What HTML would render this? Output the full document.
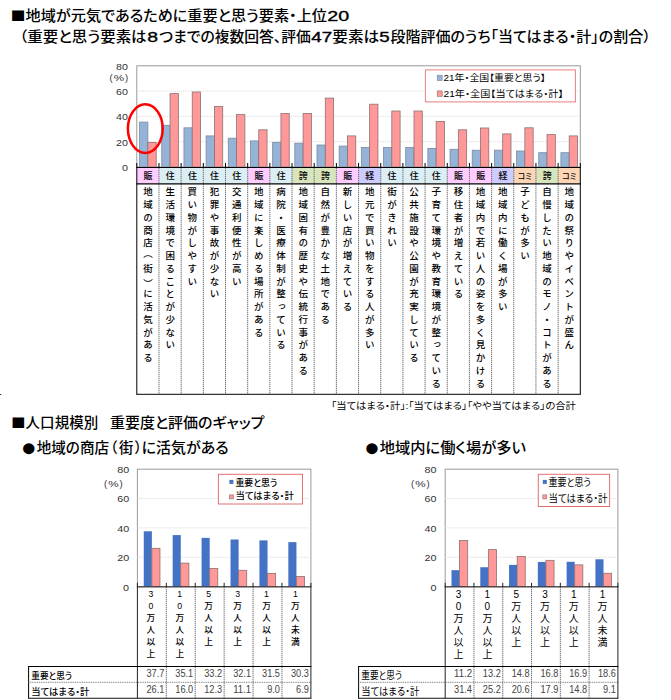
<!DOCTYPE html>
<html lang="ja"><head><meta charset="utf-8"><title>地域が元気であるために重要と思う要素</title>
<style>
html,body{margin:0;padding:0;background:#fff;}
#wrap{position:relative;width:671px;height:700px;overflow:hidden;background:#fff;font-family:"Liberation Sans", "Noto Sans CJK JP", sans-serif;}
svg{position:absolute;left:0;top:0;}
svg text{font-feature-settings:"palt";}
.vl{position:absolute;writing-mode:vertical-rl;text-orientation:upright;font-size:9.5px;font-weight:500;letter-spacing:3.25px;color:#000;white-space:nowrap;font-family:"Liberation Sans", "Noto Sans CJK JP", sans-serif;}
.po{position:relative;top:-2.5px}.pc{position:relative;top:2.5px}
.vs{position:absolute;writing-mode:vertical-rl;text-orientation:upright;color:#000;white-space:nowrap;font-family:"Liberation Sans", "Noto Sans CJK JP", sans-serif;}
</style></head><body>
<div id="wrap">
<svg width="671" height="700" viewBox="0 0 671 700">
<rect x="136.80" y="65.80" width="443.50" height="101.20" fill="#fff" stroke="#9a9a9a" stroke-width="1" />
<line x1="136.80" y1="141.70" x2="580.30" y2="141.70" stroke="#dcdcdc" stroke-width="0.9" stroke-dasharray="1.2,0.8"/>
<line x1="136.80" y1="116.40" x2="580.30" y2="116.40" stroke="#dcdcdc" stroke-width="0.9" stroke-dasharray="1.2,0.8"/>
<line x1="136.80" y1="91.10" x2="580.30" y2="91.10" stroke="#dcdcdc" stroke-width="0.9" stroke-dasharray="1.2,0.8"/>
<rect x="139.59" y="122.10" width="8.30" height="44.90" fill="#95b3d7" stroke="#7a8aa0" stroke-width="0.8" />
<rect x="147.89" y="142.50" width="8.30" height="24.50" fill="#ff9999" stroke="#8c7070" stroke-width="0.8" />
<rect x="161.76" y="125.30" width="8.30" height="41.70" fill="#95b3d7" stroke="#7a8aa0" stroke-width="0.8" />
<rect x="170.06" y="93.60" width="8.30" height="73.40" fill="#ff9999" stroke="#8c7070" stroke-width="0.8" />
<rect x="183.94" y="127.80" width="8.30" height="39.20" fill="#95b3d7" stroke="#7a8aa0" stroke-width="0.8" />
<rect x="192.24" y="92.00" width="8.30" height="75.00" fill="#ff9999" stroke="#8c7070" stroke-width="0.8" />
<rect x="206.11" y="135.90" width="8.30" height="31.10" fill="#95b3d7" stroke="#7a8aa0" stroke-width="0.8" />
<rect x="214.41" y="106.50" width="8.30" height="60.50" fill="#ff9999" stroke="#8c7070" stroke-width="0.8" />
<rect x="228.29" y="138.20" width="8.30" height="28.80" fill="#95b3d7" stroke="#7a8aa0" stroke-width="0.8" />
<rect x="236.59" y="114.60" width="8.30" height="52.40" fill="#ff9999" stroke="#8c7070" stroke-width="0.8" />
<rect x="250.46" y="140.90" width="8.30" height="26.10" fill="#95b3d7" stroke="#7a8aa0" stroke-width="0.8" />
<rect x="258.76" y="129.80" width="8.30" height="37.20" fill="#ff9999" stroke="#8c7070" stroke-width="0.8" />
<rect x="272.64" y="142.30" width="8.30" height="24.70" fill="#95b3d7" stroke="#7a8aa0" stroke-width="0.8" />
<rect x="280.94" y="113.50" width="8.30" height="53.50" fill="#ff9999" stroke="#8c7070" stroke-width="0.8" />
<rect x="294.81" y="143.20" width="8.30" height="23.80" fill="#95b3d7" stroke="#7a8aa0" stroke-width="0.8" />
<rect x="303.11" y="113.50" width="8.30" height="53.50" fill="#ff9999" stroke="#8c7070" stroke-width="0.8" />
<rect x="316.99" y="145.00" width="8.30" height="22.00" fill="#95b3d7" stroke="#7a8aa0" stroke-width="0.8" />
<rect x="325.29" y="98.10" width="8.30" height="68.90" fill="#ff9999" stroke="#8c7070" stroke-width="0.8" />
<rect x="339.16" y="146.10" width="8.30" height="20.90" fill="#95b3d7" stroke="#7a8aa0" stroke-width="0.8" />
<rect x="347.46" y="135.90" width="8.30" height="31.10" fill="#ff9999" stroke="#8c7070" stroke-width="0.8" />
<rect x="361.34" y="147.50" width="8.30" height="19.50" fill="#95b3d7" stroke="#7a8aa0" stroke-width="0.8" />
<rect x="369.64" y="104.20" width="8.30" height="62.80" fill="#ff9999" stroke="#8c7070" stroke-width="0.8" />
<rect x="383.51" y="147.50" width="8.30" height="19.50" fill="#95b3d7" stroke="#7a8aa0" stroke-width="0.8" />
<rect x="391.81" y="111.00" width="8.30" height="56.00" fill="#ff9999" stroke="#8c7070" stroke-width="0.8" />
<rect x="405.69" y="147.50" width="8.30" height="19.50" fill="#95b3d7" stroke="#7a8aa0" stroke-width="0.8" />
<rect x="413.99" y="111.00" width="8.30" height="56.00" fill="#ff9999" stroke="#8c7070" stroke-width="0.8" />
<rect x="427.86" y="148.40" width="8.30" height="18.60" fill="#95b3d7" stroke="#7a8aa0" stroke-width="0.8" />
<rect x="436.16" y="121.40" width="8.30" height="45.60" fill="#ff9999" stroke="#8c7070" stroke-width="0.8" />
<rect x="450.04" y="149.30" width="8.30" height="17.70" fill="#95b3d7" stroke="#7a8aa0" stroke-width="0.8" />
<rect x="458.34" y="129.80" width="8.30" height="37.20" fill="#ff9999" stroke="#8c7070" stroke-width="0.8" />
<rect x="472.21" y="150.20" width="8.30" height="16.80" fill="#95b3d7" stroke="#7a8aa0" stroke-width="0.8" />
<rect x="480.51" y="128.00" width="8.30" height="39.00" fill="#ff9999" stroke="#8c7070" stroke-width="0.8" />
<rect x="494.39" y="150.20" width="8.30" height="16.80" fill="#95b3d7" stroke="#7a8aa0" stroke-width="0.8" />
<rect x="502.69" y="133.90" width="8.30" height="33.10" fill="#ff9999" stroke="#8c7070" stroke-width="0.8" />
<rect x="516.56" y="151.00" width="8.30" height="16.00" fill="#95b3d7" stroke="#7a8aa0" stroke-width="0.8" />
<rect x="524.86" y="127.80" width="8.30" height="39.20" fill="#ff9999" stroke="#8c7070" stroke-width="0.8" />
<rect x="538.74" y="152.70" width="8.30" height="14.30" fill="#95b3d7" stroke="#7a8aa0" stroke-width="0.8" />
<rect x="547.04" y="134.60" width="8.30" height="32.40" fill="#ff9999" stroke="#8c7070" stroke-width="0.8" />
<rect x="560.91" y="152.70" width="8.30" height="14.30" fill="#95b3d7" stroke="#7a8aa0" stroke-width="0.8" />
<rect x="569.21" y="135.90" width="8.30" height="31.10" fill="#ff9999" stroke="#8c7070" stroke-width="0.8" />
<rect x="425.40" y="69.90" width="150.00" height="32.00" fill="#fff" stroke="#e57f7f" stroke-width="1" />
<rect x="437.20" y="75.20" width="5.00" height="5.40" fill="#95b3d7" stroke="#7a8aa0" stroke-width="0.6" />
<rect x="437.20" y="90.90" width="5.00" height="5.40" fill="#ff9999" stroke="#8c7070" stroke-width="0.6" />
<text x="443.60" y="81.30" font-size="9" text-anchor="start" font-weight="400" fill="#000" font-family='"Liberation Sans", "Noto Sans CJK JP", sans-serif' id="lg1" textLength="102" lengthAdjust="spacingAndGlyphs">21年・全国【重要と思う】</text>
<text x="443.60" y="97.20" font-size="9" text-anchor="start" font-weight="400" fill="#000" font-family='"Liberation Sans", "Noto Sans CJK JP", sans-serif' id="lg2" textLength="120" lengthAdjust="spacingAndGlyphs">21年・全国【当てはまる・計】</text>
<text x="127.90" y="69.80" font-size="9.9" text-anchor="end" font-weight="400" fill="#333" font-family='"Liberation Sans", "Noto Sans CJK JP", sans-serif' textLength="11.9" lengthAdjust="spacingAndGlyphs">80</text>
<text x="127.90" y="95.10" font-size="9.9" text-anchor="end" font-weight="400" fill="#333" font-family='"Liberation Sans", "Noto Sans CJK JP", sans-serif' textLength="11.9" lengthAdjust="spacingAndGlyphs">60</text>
<text x="127.90" y="120.40" font-size="9.9" text-anchor="end" font-weight="400" fill="#333" font-family='"Liberation Sans", "Noto Sans CJK JP", sans-serif' textLength="11.9" lengthAdjust="spacingAndGlyphs">40</text>
<text x="127.90" y="145.70" font-size="9.9" text-anchor="end" font-weight="400" fill="#333" font-family='"Liberation Sans", "Noto Sans CJK JP", sans-serif' textLength="11.9" lengthAdjust="spacingAndGlyphs">20</text>
<text x="127.90" y="171.00" font-size="9.9" text-anchor="end" font-weight="400" fill="#333" font-family='"Liberation Sans", "Noto Sans CJK JP", sans-serif' textLength="6.0" lengthAdjust="spacingAndGlyphs">0</text>
<text y="81.40" font-size="9.5" fill="#333" font-family='"Liberation Sans", "Noto Sans CJK JP", sans-serif'><tspan x="109.50">(</tspan><tspan x="113.70" textLength="10.4" lengthAdjust="spacingAndGlyphs">%</tspan><tspan x="124.90">)</tspan></text>
<ellipse cx="145.3" cy="128.6" rx="17.4" ry="24.3" fill="none" stroke="#ff0000" stroke-width="2.5"/>
<rect x="136.80" y="168.00" width="22.17" height="15.30" fill="#ffccff" />
<rect x="158.98" y="168.00" width="22.17" height="15.30" fill="#daeef3" />
<rect x="181.15" y="168.00" width="22.17" height="15.30" fill="#daeef3" />
<rect x="203.32" y="168.00" width="22.17" height="15.30" fill="#daeef3" />
<rect x="225.50" y="168.00" width="22.17" height="15.30" fill="#daeef3" />
<rect x="247.68" y="168.00" width="22.17" height="15.30" fill="#ffccff" />
<rect x="269.85" y="168.00" width="22.17" height="15.30" fill="#daeef3" />
<rect x="292.02" y="168.00" width="22.17" height="15.30" fill="#d8e4bc" />
<rect x="314.20" y="168.00" width="22.17" height="15.30" fill="#d8e4bc" />
<rect x="336.38" y="168.00" width="22.17" height="15.30" fill="#ffccff" />
<rect x="358.55" y="168.00" width="22.17" height="15.30" fill="#ccccff" />
<rect x="380.72" y="168.00" width="22.17" height="15.30" fill="#daeef3" />
<rect x="402.90" y="168.00" width="22.17" height="15.30" fill="#daeef3" />
<rect x="425.07" y="168.00" width="22.17" height="15.30" fill="#daeef3" />
<rect x="447.25" y="168.00" width="22.17" height="15.30" fill="#ffccff" />
<rect x="469.42" y="168.00" width="22.17" height="15.30" fill="#ffccff" />
<rect x="491.60" y="168.00" width="22.17" height="15.30" fill="#ccccff" />
<rect x="513.77" y="168.00" width="22.17" height="15.30" fill="#fcd5b4" />
<rect x="535.95" y="168.00" width="22.17" height="15.30" fill="#d8e4bc" />
<rect x="558.12" y="168.00" width="22.17" height="15.30" fill="#fcd5b4" />
<line x1="158.98" y1="168.00" x2="158.98" y2="394.30" stroke="#555" stroke-width="0.8" stroke-dasharray="1.4,0.6"/>
<line x1="181.15" y1="168.00" x2="181.15" y2="394.30" stroke="#555" stroke-width="0.8" stroke-dasharray="1.4,0.6"/>
<line x1="203.32" y1="168.00" x2="203.32" y2="394.30" stroke="#555" stroke-width="0.8" stroke-dasharray="1.4,0.6"/>
<line x1="225.50" y1="168.00" x2="225.50" y2="394.30" stroke="#555" stroke-width="0.8" stroke-dasharray="1.4,0.6"/>
<line x1="247.68" y1="168.00" x2="247.68" y2="394.30" stroke="#555" stroke-width="0.8" stroke-dasharray="1.4,0.6"/>
<line x1="269.85" y1="168.00" x2="269.85" y2="394.30" stroke="#555" stroke-width="0.8" stroke-dasharray="1.4,0.6"/>
<line x1="292.02" y1="168.00" x2="292.02" y2="394.30" stroke="#555" stroke-width="0.8" stroke-dasharray="1.4,0.6"/>
<line x1="314.20" y1="168.00" x2="314.20" y2="394.30" stroke="#555" stroke-width="0.8" stroke-dasharray="1.4,0.6"/>
<line x1="336.38" y1="168.00" x2="336.38" y2="394.30" stroke="#555" stroke-width="0.8" stroke-dasharray="1.4,0.6"/>
<line x1="358.55" y1="168.00" x2="358.55" y2="394.30" stroke="#555" stroke-width="0.8" stroke-dasharray="1.4,0.6"/>
<line x1="380.72" y1="168.00" x2="380.72" y2="394.30" stroke="#555" stroke-width="0.8" stroke-dasharray="1.4,0.6"/>
<line x1="402.90" y1="168.00" x2="402.90" y2="394.30" stroke="#555" stroke-width="0.8" stroke-dasharray="1.4,0.6"/>
<line x1="425.07" y1="168.00" x2="425.07" y2="394.30" stroke="#555" stroke-width="0.8" stroke-dasharray="1.4,0.6"/>
<line x1="447.25" y1="168.00" x2="447.25" y2="394.30" stroke="#555" stroke-width="0.8" stroke-dasharray="1.4,0.6"/>
<line x1="469.42" y1="168.00" x2="469.42" y2="394.30" stroke="#555" stroke-width="0.8" stroke-dasharray="1.4,0.6"/>
<line x1="491.60" y1="168.00" x2="491.60" y2="394.30" stroke="#555" stroke-width="0.8" stroke-dasharray="1.4,0.6"/>
<line x1="513.77" y1="168.00" x2="513.77" y2="394.30" stroke="#555" stroke-width="0.8" stroke-dasharray="1.4,0.6"/>
<line x1="535.95" y1="168.00" x2="535.95" y2="394.30" stroke="#555" stroke-width="0.8" stroke-dasharray="1.4,0.6"/>
<line x1="558.12" y1="168.00" x2="558.12" y2="394.30" stroke="#555" stroke-width="0.8" stroke-dasharray="1.4,0.6"/>
<line x1="136.80" y1="167.50" x2="136.80" y2="394.30" stroke="#000" stroke-width="1" />
<line x1="580.30" y1="167.50" x2="580.30" y2="394.30" stroke="#000" stroke-width="1" />
<line x1="136.30" y1="394.30" x2="580.80" y2="394.30" stroke="#000" stroke-width="1" />
<line x1="136.30" y1="183.80" x2="580.80" y2="183.80" stroke="#000" stroke-width="1.3" />
<line x1="136.30" y1="167.50" x2="580.80" y2="167.50" stroke="#000" stroke-width="1.1" />
<line x1="136.80" y1="163.00" x2="136.80" y2="167.50" stroke="#000" stroke-width="1" />
<line x1="158.98" y1="163.00" x2="158.98" y2="167.50" stroke="#000" stroke-width="1" />
<line x1="181.15" y1="163.00" x2="181.15" y2="167.50" stroke="#000" stroke-width="1" />
<line x1="203.32" y1="163.00" x2="203.32" y2="167.50" stroke="#000" stroke-width="1" />
<line x1="225.50" y1="163.00" x2="225.50" y2="167.50" stroke="#000" stroke-width="1" />
<line x1="247.68" y1="163.00" x2="247.68" y2="167.50" stroke="#000" stroke-width="1" />
<line x1="269.85" y1="163.00" x2="269.85" y2="167.50" stroke="#000" stroke-width="1" />
<line x1="292.02" y1="163.00" x2="292.02" y2="167.50" stroke="#000" stroke-width="1" />
<line x1="314.20" y1="163.00" x2="314.20" y2="167.50" stroke="#000" stroke-width="1" />
<line x1="336.38" y1="163.00" x2="336.38" y2="167.50" stroke="#000" stroke-width="1" />
<line x1="358.55" y1="163.00" x2="358.55" y2="167.50" stroke="#000" stroke-width="1" />
<line x1="380.72" y1="163.00" x2="380.72" y2="167.50" stroke="#000" stroke-width="1" />
<line x1="402.90" y1="163.00" x2="402.90" y2="167.50" stroke="#000" stroke-width="1" />
<line x1="425.07" y1="163.00" x2="425.07" y2="167.50" stroke="#000" stroke-width="1" />
<line x1="447.25" y1="163.00" x2="447.25" y2="167.50" stroke="#000" stroke-width="1" />
<line x1="469.42" y1="163.00" x2="469.42" y2="167.50" stroke="#000" stroke-width="1" />
<line x1="491.60" y1="163.00" x2="491.60" y2="167.50" stroke="#000" stroke-width="1" />
<line x1="513.77" y1="163.00" x2="513.77" y2="167.50" stroke="#000" stroke-width="1" />
<line x1="535.95" y1="163.00" x2="535.95" y2="167.50" stroke="#000" stroke-width="1" />
<line x1="558.12" y1="163.00" x2="558.12" y2="167.50" stroke="#000" stroke-width="1" />
<line x1="580.30" y1="163.00" x2="580.30" y2="167.50" stroke="#000" stroke-width="1" />
<text x="148.09" y="179.00" font-size="9" text-anchor="middle" font-weight="500" fill="#000" font-family='"Liberation Sans", "Noto Sans CJK JP", sans-serif' >賑</text>
<text x="170.26" y="179.00" font-size="9" text-anchor="middle" font-weight="500" fill="#000" font-family='"Liberation Sans", "Noto Sans CJK JP", sans-serif' >住</text>
<text x="192.44" y="179.00" font-size="9" text-anchor="middle" font-weight="500" fill="#000" font-family='"Liberation Sans", "Noto Sans CJK JP", sans-serif' >住</text>
<text x="214.61" y="179.00" font-size="9" text-anchor="middle" font-weight="500" fill="#000" font-family='"Liberation Sans", "Noto Sans CJK JP", sans-serif' >住</text>
<text x="236.79" y="179.00" font-size="9" text-anchor="middle" font-weight="500" fill="#000" font-family='"Liberation Sans", "Noto Sans CJK JP", sans-serif' >住</text>
<text x="258.96" y="179.00" font-size="9" text-anchor="middle" font-weight="500" fill="#000" font-family='"Liberation Sans", "Noto Sans CJK JP", sans-serif' >賑</text>
<text x="281.14" y="179.00" font-size="9" text-anchor="middle" font-weight="500" fill="#000" font-family='"Liberation Sans", "Noto Sans CJK JP", sans-serif' >住</text>
<text x="303.31" y="179.00" font-size="9" text-anchor="middle" font-weight="500" fill="#000" font-family='"Liberation Sans", "Noto Sans CJK JP", sans-serif' >誇</text>
<text x="325.49" y="179.00" font-size="9" text-anchor="middle" font-weight="500" fill="#000" font-family='"Liberation Sans", "Noto Sans CJK JP", sans-serif' >誇</text>
<text x="347.66" y="179.00" font-size="9" text-anchor="middle" font-weight="500" fill="#000" font-family='"Liberation Sans", "Noto Sans CJK JP", sans-serif' >賑</text>
<text x="369.84" y="179.00" font-size="9" text-anchor="middle" font-weight="500" fill="#000" font-family='"Liberation Sans", "Noto Sans CJK JP", sans-serif' >経</text>
<text x="392.01" y="179.00" font-size="9" text-anchor="middle" font-weight="500" fill="#000" font-family='"Liberation Sans", "Noto Sans CJK JP", sans-serif' >住</text>
<text x="414.19" y="179.00" font-size="9" text-anchor="middle" font-weight="500" fill="#000" font-family='"Liberation Sans", "Noto Sans CJK JP", sans-serif' >住</text>
<text x="436.36" y="179.00" font-size="9" text-anchor="middle" font-weight="500" fill="#000" font-family='"Liberation Sans", "Noto Sans CJK JP", sans-serif' >住</text>
<text x="458.54" y="179.00" font-size="9" text-anchor="middle" font-weight="500" fill="#000" font-family='"Liberation Sans", "Noto Sans CJK JP", sans-serif' >賑</text>
<text x="480.71" y="179.00" font-size="9" text-anchor="middle" font-weight="500" fill="#000" font-family='"Liberation Sans", "Noto Sans CJK JP", sans-serif' >賑</text>
<text x="502.89" y="179.00" font-size="9" text-anchor="middle" font-weight="500" fill="#000" font-family='"Liberation Sans", "Noto Sans CJK JP", sans-serif' >経</text>
<text x="524.86" y="179.20" font-size="8.5" text-anchor="middle" font-weight="500" fill="#000" font-family='"Liberation Sans", "Noto Sans CJK JP", sans-serif' textLength="13.8" lengthAdjust="spacingAndGlyphs">コミ</text>
<text x="547.24" y="179.00" font-size="9" text-anchor="middle" font-weight="500" fill="#000" font-family='"Liberation Sans", "Noto Sans CJK JP", sans-serif' >誇</text>
<text x="569.21" y="179.20" font-size="8.5" text-anchor="middle" font-weight="500" fill="#000" font-family='"Liberation Sans", "Noto Sans CJK JP", sans-serif' textLength="13.8" lengthAdjust="spacingAndGlyphs">コミ</text>
<rect x="0.00" y="394.00" width="1.20" height="1.00" fill="#333" />
<text x="331.20" y="409.40" font-size="9.5" text-anchor="start" font-weight="400" fill="#000" font-family='"Liberation Sans", "Noto Sans CJK JP", sans-serif' id="fn" textLength="244.7" lengthAdjust="spacingAndGlyphs">「当てはまる・計」:「当てはまる」「やや当てはまる」の合計</text>
<text x="10.62" y="22.14" font-size="21.7" text-anchor="start" font-weight="400" fill="#000" font-family='"Liberation Sans", "Noto Sans CJK JP", sans-serif' textLength="14.85" lengthAdjust="spacingAndGlyphs">■</text>
<text x="25.60" y="21.40" font-size="14.3" text-anchor="start" font-weight="500" fill="#000" font-family='"Liberation Sans", "Noto Sans CJK JP", sans-serif' textLength="301.40" lengthAdjust="spacingAndGlyphs" >地域が元気であるために重要と思う要素・上位</text>
<text x="327.20" y="21.40" font-size="14.3" text-anchor="start" font-weight="500" fill="#000" font-family='"Liberation Sans", "Noto Sans CJK JP", sans-serif' textLength="21.90" lengthAdjust="spacingAndGlyphs" stroke="#000" stroke-width="0.35">20</text>
<text x="19.50" y="41.80" font-size="14.3" text-anchor="start" font-weight="500" fill="#000" font-family='"Liberation Sans", "Noto Sans CJK JP", sans-serif' textLength="127.10" lengthAdjust="spacingAndGlyphs" >（重要と思う要素は</text>
<text x="147.30" y="41.80" font-size="14.3" text-anchor="start" font-weight="500" fill="#000" font-family='"Liberation Sans", "Noto Sans CJK JP", sans-serif' textLength="10.80" lengthAdjust="spacingAndGlyphs" stroke="#000" stroke-width="0.35">8</text>
<text x="159.20" y="41.80" font-size="14.3" text-anchor="start" font-weight="500" fill="#000" font-family='"Liberation Sans", "Noto Sans CJK JP", sans-serif' textLength="151.70" lengthAdjust="spacingAndGlyphs" >つまでの複数回答、評価</text>
<text x="311.30" y="41.80" font-size="14.3" text-anchor="start" font-weight="500" fill="#000" font-family='"Liberation Sans", "Noto Sans CJK JP", sans-serif' textLength="20.90" lengthAdjust="spacingAndGlyphs" stroke="#000" stroke-width="0.35">47</text>
<text x="332.20" y="41.80" font-size="14.3" text-anchor="start" font-weight="500" fill="#000" font-family='"Liberation Sans", "Noto Sans CJK JP", sans-serif' textLength="47.10" lengthAdjust="spacingAndGlyphs" >要素は</text>
<text x="379.30" y="41.80" font-size="14.3" text-anchor="start" font-weight="500" fill="#000" font-family='"Liberation Sans", "Noto Sans CJK JP", sans-serif' textLength="10.40" lengthAdjust="spacingAndGlyphs" stroke="#000" stroke-width="0.35">5</text>
<text x="390.40" y="41.80" font-size="14.3" text-anchor="start" font-weight="500" fill="#000" font-family='"Liberation Sans", "Noto Sans CJK JP", sans-serif' textLength="260.30" lengthAdjust="spacingAndGlyphs" >段階評価のうち「当てはまる・計」の割合）</text>
<text x="11.07" y="429.04" font-size="21.7" text-anchor="start" font-weight="400" fill="#000" font-family='"Liberation Sans", "Noto Sans CJK JP", sans-serif' textLength="14.35" lengthAdjust="spacingAndGlyphs">■</text>
<text x="25.60" y="428.00" font-size="14.3" text-anchor="start" font-weight="500" fill="#000" font-family='"Liberation Sans", "Noto Sans CJK JP", sans-serif' textLength="72.60" lengthAdjust="spacingAndGlyphs" >人口規模別</text>
<text x="109.90" y="428.00" font-size="14.3" text-anchor="start" font-weight="500" fill="#000" font-family='"Liberation Sans", "Noto Sans CJK JP", sans-serif' textLength="154.50" lengthAdjust="spacingAndGlyphs" >重要度と評価のギャップ</text>
<text x="20.70" y="455.60" font-size="25.34" text-anchor="start" font-weight="400" fill="#000" font-family='"Liberation Sans", "Noto Sans CJK JP", sans-serif' textLength="16.01" lengthAdjust="spacingAndGlyphs">●</text>
<text x="36.70" y="453.20" font-size="14.3" text-anchor="start" font-weight="500" fill="#000" font-family='"Liberation Sans", "Noto Sans CJK JP", sans-serif' textLength="72.40" lengthAdjust="spacingAndGlyphs" >地域の商店</text>
<text x="110.2 118.9 134.8" y="453.20" font-size="14.30" font-weight="500" font-family='"Liberation Sans", "Noto Sans CJK JP", sans-serif'>（街）</text>
<text x="141.70" y="453.20" font-size="14.3" text-anchor="start" font-weight="500" fill="#000" font-family='"Liberation Sans", "Noto Sans CJK JP", sans-serif' textLength="87.00" lengthAdjust="spacingAndGlyphs" >に活気がある</text>
<text x="363.92" y="455.60" font-size="25.34" text-anchor="start" font-weight="400" fill="#000" font-family='"Liberation Sans", "Noto Sans CJK JP", sans-serif' textLength="15.87" lengthAdjust="spacingAndGlyphs">●</text>
<text x="379.70" y="453.20" font-size="14.3" text-anchor="start" font-weight="500" fill="#000" font-family='"Liberation Sans", "Noto Sans CJK JP", sans-serif' textLength="146.20" lengthAdjust="spacingAndGlyphs" >地域内に働く場が多い</text>
<rect x="137.40" y="469.20" width="173.50" height="117.40" fill="#fff" stroke="#9a9a9a" stroke-width="1" />
<line x1="137.40" y1="557.25" x2="310.90" y2="557.25" stroke="#dcdcdc" stroke-width="0.9" stroke-dasharray="1.2,0.8"/>
<line x1="137.40" y1="527.90" x2="310.90" y2="527.90" stroke="#dcdcdc" stroke-width="0.9" stroke-dasharray="1.2,0.8"/>
<line x1="137.40" y1="498.55" x2="310.90" y2="498.55" stroke="#dcdcdc" stroke-width="0.9" stroke-dasharray="1.2,0.8"/>
<rect x="143.76" y="531.28" width="8.10" height="55.32" fill="#4472c4" />
<rect x="151.86" y="548.30" width="8.10" height="38.30" fill="#ff9999" stroke="#8c7070" stroke-width="0.8" />
<rect x="172.67" y="535.09" width="8.10" height="51.51" fill="#4472c4" />
<rect x="180.77" y="563.12" width="8.10" height="23.48" fill="#ff9999" stroke="#8c7070" stroke-width="0.8" />
<rect x="201.59" y="537.88" width="8.10" height="48.72" fill="#4472c4" />
<rect x="209.69" y="568.55" width="8.10" height="18.05" fill="#ff9999" stroke="#8c7070" stroke-width="0.8" />
<rect x="230.51" y="539.49" width="8.10" height="47.11" fill="#4472c4" />
<rect x="238.61" y="570.31" width="8.10" height="16.29" fill="#ff9999" stroke="#8c7070" stroke-width="0.8" />
<rect x="259.43" y="540.37" width="8.10" height="46.23" fill="#4472c4" />
<rect x="267.53" y="573.39" width="8.10" height="13.21" fill="#ff9999" stroke="#8c7070" stroke-width="0.8" />
<rect x="288.34" y="542.13" width="8.10" height="44.47" fill="#4472c4" />
<rect x="296.44" y="576.47" width="8.10" height="10.13" fill="#ff9999" stroke="#8c7070" stroke-width="0.8" />
<rect x="218.40" y="474.30" width="84.10" height="29.70" fill="#fff" stroke="#e57070" stroke-width="1" />
<rect x="229.40" y="479.90" width="4.00" height="4.00" fill="#4472c4" />
<rect x="229.40" y="494.90" width="4.00" height="4.00" fill="#ff9999" stroke="#8c7070" stroke-width="0.6" />
<text x="235.40" y="486.30" font-size="9" text-anchor="start" font-weight="500" fill="#000" font-family='"Liberation Sans", "Noto Sans CJK JP", sans-serif' textLength="41.9" lengthAdjust="spacingAndGlyphs">重要と思う</text>
<text x="235.40" y="499.20" font-size="9" text-anchor="start" font-weight="500" fill="#000" font-family='"Liberation Sans", "Noto Sans CJK JP", sans-serif' textLength="58.4" lengthAdjust="spacingAndGlyphs">当てはまる・計</text>
<text x="129.10" y="473.10" font-size="9.9" text-anchor="end" font-weight="400" fill="#333" font-family='"Liberation Sans", "Noto Sans CJK JP", sans-serif' textLength="11.9" lengthAdjust="spacingAndGlyphs">80</text>
<text x="129.10" y="502.45" font-size="9.9" text-anchor="end" font-weight="400" fill="#333" font-family='"Liberation Sans", "Noto Sans CJK JP", sans-serif' textLength="11.9" lengthAdjust="spacingAndGlyphs">60</text>
<text x="129.10" y="531.80" font-size="9.9" text-anchor="end" font-weight="400" fill="#333" font-family='"Liberation Sans", "Noto Sans CJK JP", sans-serif' textLength="11.9" lengthAdjust="spacingAndGlyphs">40</text>
<text x="129.10" y="561.15" font-size="9.9" text-anchor="end" font-weight="400" fill="#333" font-family='"Liberation Sans", "Noto Sans CJK JP", sans-serif' textLength="11.9" lengthAdjust="spacingAndGlyphs">20</text>
<text x="129.10" y="590.50" font-size="9.9" text-anchor="end" font-weight="400" fill="#333" font-family='"Liberation Sans", "Noto Sans CJK JP", sans-serif' textLength="6.0" lengthAdjust="spacingAndGlyphs">0</text>
<text y="486.80" font-size="9.5" fill="#333" font-family='"Liberation Sans", "Noto Sans CJK JP", sans-serif'><tspan x="104.00">(</tspan><tspan x="108.20" textLength="10.4" lengthAdjust="spacingAndGlyphs">%</tspan><tspan x="119.40">)</tspan></text>
<line x1="166.32" y1="586.60" x2="166.32" y2="698.30" stroke="#555" stroke-width="0.8" stroke-dasharray="1.4,0.6"/>
<line x1="195.23" y1="586.60" x2="195.23" y2="698.30" stroke="#555" stroke-width="0.8" stroke-dasharray="1.4,0.6"/>
<line x1="224.15" y1="586.60" x2="224.15" y2="698.30" stroke="#555" stroke-width="0.8" stroke-dasharray="1.4,0.6"/>
<line x1="253.07" y1="586.60" x2="253.07" y2="698.30" stroke="#555" stroke-width="0.8" stroke-dasharray="1.4,0.6"/>
<line x1="281.98" y1="586.60" x2="281.98" y2="698.30" stroke="#555" stroke-width="0.8" stroke-dasharray="1.4,0.6"/>
<line x1="137.40" y1="586.60" x2="137.40" y2="698.30" stroke="#222" stroke-width="1" />
<line x1="310.90" y1="586.60" x2="310.90" y2="698.30" stroke="#222" stroke-width="1" />
<line x1="28.60" y1="666.50" x2="28.60" y2="698.30" stroke="#000" stroke-width="1" />
<line x1="28.10" y1="666.50" x2="311.40" y2="666.50" stroke="#000" stroke-width="1" />
<line x1="28.10" y1="682.30" x2="311.40" y2="682.30" stroke="#555" stroke-width="0.8" stroke-dasharray="1,0.8"/>
<line x1="28.10" y1="698.30" x2="311.40" y2="698.30" stroke="#111" stroke-width="1.1" />
<line x1="136.90" y1="586.90" x2="311.40" y2="586.90" stroke="#222" stroke-width="1.0" />
<line x1="137.40" y1="582.80" x2="137.40" y2="586.90" stroke="#222" stroke-width="1" />
<line x1="166.32" y1="582.80" x2="166.32" y2="586.90" stroke="#222" stroke-width="1" />
<line x1="195.23" y1="582.80" x2="195.23" y2="586.90" stroke="#222" stroke-width="1" />
<line x1="224.15" y1="582.80" x2="224.15" y2="586.90" stroke="#222" stroke-width="1" />
<line x1="253.07" y1="582.80" x2="253.07" y2="586.90" stroke="#222" stroke-width="1" />
<line x1="281.98" y1="582.80" x2="281.98" y2="586.90" stroke="#222" stroke-width="1" />
<line x1="310.90" y1="582.80" x2="310.90" y2="586.90" stroke="#222" stroke-width="1" />
<text x="31.30" y="678.60" font-size="9" text-anchor="start" font-weight="500" fill="#000" font-family='"Liberation Sans", "Noto Sans CJK JP", sans-serif' textLength="40.7" lengthAdjust="spacingAndGlyphs">重要と思う</text>
<text x="31.30" y="694.60" font-size="9" text-anchor="start" font-weight="500" fill="#000" font-family='"Liberation Sans", "Noto Sans CJK JP", sans-serif' textLength="57.9" lengthAdjust="spacingAndGlyphs">当てはまる・計</text>
<text x="164.32" y="677.00" font-size="10.2" text-anchor="end" font-weight="400" fill="#444" font-family='"Liberation Sans", "Noto Sans CJK JP", sans-serif' textLength="17.9" lengthAdjust="spacingAndGlyphs">37.7</text>
<text x="164.32" y="693.10" font-size="10.2" text-anchor="end" font-weight="400" fill="#444" font-family='"Liberation Sans", "Noto Sans CJK JP", sans-serif' textLength="17.9" lengthAdjust="spacingAndGlyphs">26.1</text>
<text x="193.23" y="677.00" font-size="10.2" text-anchor="end" font-weight="400" fill="#444" font-family='"Liberation Sans", "Noto Sans CJK JP", sans-serif' textLength="17.9" lengthAdjust="spacingAndGlyphs">35.1</text>
<text x="193.23" y="693.10" font-size="10.2" text-anchor="end" font-weight="400" fill="#444" font-family='"Liberation Sans", "Noto Sans CJK JP", sans-serif' textLength="17.9" lengthAdjust="spacingAndGlyphs">16.0</text>
<text x="222.15" y="677.00" font-size="10.2" text-anchor="end" font-weight="400" fill="#444" font-family='"Liberation Sans", "Noto Sans CJK JP", sans-serif' textLength="17.9" lengthAdjust="spacingAndGlyphs">33.2</text>
<text x="222.15" y="693.10" font-size="10.2" text-anchor="end" font-weight="400" fill="#444" font-family='"Liberation Sans", "Noto Sans CJK JP", sans-serif' textLength="17.9" lengthAdjust="spacingAndGlyphs">12.3</text>
<text x="251.07" y="677.00" font-size="10.2" text-anchor="end" font-weight="400" fill="#444" font-family='"Liberation Sans", "Noto Sans CJK JP", sans-serif' textLength="17.9" lengthAdjust="spacingAndGlyphs">32.1</text>
<text x="251.07" y="693.10" font-size="10.2" text-anchor="end" font-weight="400" fill="#444" font-family='"Liberation Sans", "Noto Sans CJK JP", sans-serif' textLength="17.9" lengthAdjust="spacingAndGlyphs">11.1</text>
<text x="279.98" y="677.00" font-size="10.2" text-anchor="end" font-weight="400" fill="#444" font-family='"Liberation Sans", "Noto Sans CJK JP", sans-serif' textLength="17.9" lengthAdjust="spacingAndGlyphs">31.5</text>
<text x="279.98" y="693.10" font-size="10.2" text-anchor="end" font-weight="400" fill="#444" font-family='"Liberation Sans", "Noto Sans CJK JP", sans-serif' textLength="12.8" lengthAdjust="spacingAndGlyphs">9.0</text>
<text x="308.90" y="677.00" font-size="10.2" text-anchor="end" font-weight="400" fill="#444" font-family='"Liberation Sans", "Noto Sans CJK JP", sans-serif' textLength="17.9" lengthAdjust="spacingAndGlyphs">30.3</text>
<text x="308.90" y="693.10" font-size="10.2" text-anchor="end" font-weight="400" fill="#444" font-family='"Liberation Sans", "Noto Sans CJK JP", sans-serif' textLength="12.8" lengthAdjust="spacingAndGlyphs">6.9</text>
<text x="150.86 150.86 150.86 150.86 150.86 150.86" y="597.13 609.13 621.13 633.13 645.13 657.13" text-anchor="middle" font-size="8.7" font-weight="500" font-family='"Liberation Sans", "Noto Sans CJK JP", sans-serif'>30万人以上</text>
<text x="179.78 179.78 179.78 179.78 179.78 179.78" y="597.13 609.13 621.13 633.13 645.13 657.13" text-anchor="middle" font-size="8.7" font-weight="500" font-family='"Liberation Sans", "Noto Sans CJK JP", sans-serif'>10万人以上</text>
<text x="208.69 208.69 208.69 208.69 208.69" y="597.13 609.13 621.13 633.13 645.13" text-anchor="middle" font-size="8.7" font-weight="500" font-family='"Liberation Sans", "Noto Sans CJK JP", sans-serif'>5万人以上</text>
<text x="237.61 237.61 237.61 237.61 237.61" y="597.13 609.13 621.13 633.13 645.13" text-anchor="middle" font-size="8.7" font-weight="500" font-family='"Liberation Sans", "Noto Sans CJK JP", sans-serif'>3万人以上</text>
<text x="266.52 266.52 266.52 266.52 266.52" y="597.13 609.13 621.13 633.13 645.13" text-anchor="middle" font-size="8.7" font-weight="500" font-family='"Liberation Sans", "Noto Sans CJK JP", sans-serif'>1万人以上</text>
<text x="295.44 295.44 295.44 295.44 295.44" y="597.13 609.13 621.13 633.13 645.13" text-anchor="middle" font-size="8.7" font-weight="500" font-family='"Liberation Sans", "Noto Sans CJK JP", sans-serif'>1万人未満</text>
<rect x="445.20" y="469.20" width="172.70" height="117.40" fill="#fff" stroke="#9a9a9a" stroke-width="1" />
<line x1="445.20" y1="557.25" x2="617.90" y2="557.25" stroke="#dcdcdc" stroke-width="0.9" stroke-dasharray="1.2,0.8"/>
<line x1="445.20" y1="527.90" x2="617.90" y2="527.90" stroke="#dcdcdc" stroke-width="0.9" stroke-dasharray="1.2,0.8"/>
<line x1="445.20" y1="498.55" x2="617.90" y2="498.55" stroke="#dcdcdc" stroke-width="0.9" stroke-dasharray="1.2,0.8"/>
<rect x="451.49" y="570.16" width="8.10" height="16.44" fill="#4472c4" />
<rect x="459.59" y="540.52" width="8.10" height="46.08" fill="#ff9999" stroke="#8c7070" stroke-width="0.8" />
<rect x="480.28" y="567.23" width="8.10" height="19.37" fill="#4472c4" />
<rect x="488.38" y="549.62" width="8.10" height="36.98" fill="#ff9999" stroke="#8c7070" stroke-width="0.8" />
<rect x="509.06" y="564.88" width="8.10" height="21.72" fill="#4472c4" />
<rect x="517.16" y="556.37" width="8.10" height="30.23" fill="#ff9999" stroke="#8c7070" stroke-width="0.8" />
<rect x="537.84" y="561.95" width="8.10" height="24.65" fill="#4472c4" />
<rect x="545.94" y="560.33" width="8.10" height="26.27" fill="#ff9999" stroke="#8c7070" stroke-width="0.8" />
<rect x="566.62" y="561.80" width="8.10" height="24.80" fill="#4472c4" />
<rect x="574.72" y="564.88" width="8.10" height="21.72" fill="#ff9999" stroke="#8c7070" stroke-width="0.8" />
<rect x="595.41" y="559.30" width="8.10" height="27.30" fill="#4472c4" />
<rect x="603.51" y="573.25" width="8.10" height="13.35" fill="#ff9999" stroke="#8c7070" stroke-width="0.8" />
<rect x="538.30" y="474.30" width="71.30" height="32.20" fill="#fff" stroke="#e57070" stroke-width="1" />
<rect x="542.80" y="479.90" width="4.00" height="4.00" fill="#4472c4" />
<rect x="542.80" y="494.90" width="4.00" height="4.00" fill="#ff9999" stroke="#8c7070" stroke-width="0.6" />
<text x="548.60" y="486.30" font-size="10" text-anchor="start" font-weight="400" fill="#000" font-family='"Liberation Sans", "Noto Sans CJK JP", sans-serif' textLength="42.3" lengthAdjust="spacingAndGlyphs">重要と思う</text>
<text x="548.60" y="501.70" font-size="10" text-anchor="start" font-weight="400" fill="#000" font-family='"Liberation Sans", "Noto Sans CJK JP", sans-serif' textLength="58.9" lengthAdjust="spacingAndGlyphs">当てはまる・計</text>
<text x="436.50" y="473.10" font-size="9.9" text-anchor="end" font-weight="400" fill="#333" font-family='"Liberation Sans", "Noto Sans CJK JP", sans-serif' textLength="11.9" lengthAdjust="spacingAndGlyphs">80</text>
<text x="436.50" y="502.45" font-size="9.9" text-anchor="end" font-weight="400" fill="#333" font-family='"Liberation Sans", "Noto Sans CJK JP", sans-serif' textLength="11.9" lengthAdjust="spacingAndGlyphs">60</text>
<text x="436.50" y="531.80" font-size="9.9" text-anchor="end" font-weight="400" fill="#333" font-family='"Liberation Sans", "Noto Sans CJK JP", sans-serif' textLength="11.9" lengthAdjust="spacingAndGlyphs">40</text>
<text x="436.50" y="561.15" font-size="9.9" text-anchor="end" font-weight="400" fill="#333" font-family='"Liberation Sans", "Noto Sans CJK JP", sans-serif' textLength="11.9" lengthAdjust="spacingAndGlyphs">20</text>
<text x="436.50" y="590.50" font-size="9.9" text-anchor="end" font-weight="400" fill="#333" font-family='"Liberation Sans", "Noto Sans CJK JP", sans-serif' textLength="6.0" lengthAdjust="spacingAndGlyphs">0</text>
<text y="486.80" font-size="9.5" fill="#333" font-family='"Liberation Sans", "Noto Sans CJK JP", sans-serif'><tspan x="411.00">(</tspan><tspan x="415.20" textLength="10.4" lengthAdjust="spacingAndGlyphs">%</tspan><tspan x="426.40">)</tspan></text>
<line x1="473.98" y1="586.60" x2="473.98" y2="698.30" stroke="#555" stroke-width="0.8" stroke-dasharray="1.4,0.6"/>
<line x1="502.77" y1="586.60" x2="502.77" y2="698.30" stroke="#555" stroke-width="0.8" stroke-dasharray="1.4,0.6"/>
<line x1="531.55" y1="586.60" x2="531.55" y2="698.30" stroke="#555" stroke-width="0.8" stroke-dasharray="1.4,0.6"/>
<line x1="560.33" y1="586.60" x2="560.33" y2="698.30" stroke="#555" stroke-width="0.8" stroke-dasharray="1.4,0.6"/>
<line x1="589.12" y1="586.60" x2="589.12" y2="698.30" stroke="#555" stroke-width="0.8" stroke-dasharray="1.4,0.6"/>
<line x1="445.20" y1="586.60" x2="445.20" y2="698.30" stroke="#222" stroke-width="1" />
<line x1="617.90" y1="586.60" x2="617.90" y2="698.30" stroke="#222" stroke-width="1" />
<line x1="358.60" y1="666.50" x2="358.60" y2="698.30" stroke="#000" stroke-width="1" />
<line x1="358.10" y1="666.50" x2="618.40" y2="666.50" stroke="#000" stroke-width="1" />
<line x1="358.10" y1="682.30" x2="618.40" y2="682.30" stroke="#555" stroke-width="0.8" stroke-dasharray="1,0.8"/>
<line x1="358.10" y1="698.30" x2="618.40" y2="698.30" stroke="#111" stroke-width="1.1" />
<line x1="444.70" y1="586.90" x2="618.40" y2="586.90" stroke="#222" stroke-width="1.0" />
<line x1="445.20" y1="582.80" x2="445.20" y2="586.90" stroke="#222" stroke-width="1" />
<line x1="473.98" y1="582.80" x2="473.98" y2="586.90" stroke="#222" stroke-width="1" />
<line x1="502.77" y1="582.80" x2="502.77" y2="586.90" stroke="#222" stroke-width="1" />
<line x1="531.55" y1="582.80" x2="531.55" y2="586.90" stroke="#222" stroke-width="1" />
<line x1="560.33" y1="582.80" x2="560.33" y2="586.90" stroke="#222" stroke-width="1" />
<line x1="589.12" y1="582.80" x2="589.12" y2="586.90" stroke="#222" stroke-width="1" />
<line x1="617.90" y1="582.80" x2="617.90" y2="586.90" stroke="#222" stroke-width="1" />
<text x="361.30" y="678.60" font-size="10" text-anchor="start" font-weight="400" fill="#000" font-family='"Liberation Sans", "Noto Sans CJK JP", sans-serif' textLength="40.7" lengthAdjust="spacingAndGlyphs">重要と思う</text>
<text x="361.30" y="694.60" font-size="10" text-anchor="start" font-weight="400" fill="#000" font-family='"Liberation Sans", "Noto Sans CJK JP", sans-serif' textLength="57.9" lengthAdjust="spacingAndGlyphs">当てはまる・計</text>
<text x="471.98" y="677.00" font-size="10.2" text-anchor="end" font-weight="400" fill="#444" font-family='"Liberation Sans", "Noto Sans CJK JP", sans-serif' textLength="17.9" lengthAdjust="spacingAndGlyphs">11.2</text>
<text x="471.98" y="693.10" font-size="10.2" text-anchor="end" font-weight="400" fill="#444" font-family='"Liberation Sans", "Noto Sans CJK JP", sans-serif' textLength="17.9" lengthAdjust="spacingAndGlyphs">31.4</text>
<text x="500.77" y="677.00" font-size="10.2" text-anchor="end" font-weight="400" fill="#444" font-family='"Liberation Sans", "Noto Sans CJK JP", sans-serif' textLength="17.9" lengthAdjust="spacingAndGlyphs">13.2</text>
<text x="500.77" y="693.10" font-size="10.2" text-anchor="end" font-weight="400" fill="#444" font-family='"Liberation Sans", "Noto Sans CJK JP", sans-serif' textLength="17.9" lengthAdjust="spacingAndGlyphs">25.2</text>
<text x="529.55" y="677.00" font-size="10.2" text-anchor="end" font-weight="400" fill="#444" font-family='"Liberation Sans", "Noto Sans CJK JP", sans-serif' textLength="17.9" lengthAdjust="spacingAndGlyphs">14.8</text>
<text x="529.55" y="693.10" font-size="10.2" text-anchor="end" font-weight="400" fill="#444" font-family='"Liberation Sans", "Noto Sans CJK JP", sans-serif' textLength="17.9" lengthAdjust="spacingAndGlyphs">20.6</text>
<text x="558.33" y="677.00" font-size="10.2" text-anchor="end" font-weight="400" fill="#444" font-family='"Liberation Sans", "Noto Sans CJK JP", sans-serif' textLength="17.9" lengthAdjust="spacingAndGlyphs">16.8</text>
<text x="558.33" y="693.10" font-size="10.2" text-anchor="end" font-weight="400" fill="#444" font-family='"Liberation Sans", "Noto Sans CJK JP", sans-serif' textLength="17.9" lengthAdjust="spacingAndGlyphs">17.9</text>
<text x="587.12" y="677.00" font-size="10.2" text-anchor="end" font-weight="400" fill="#444" font-family='"Liberation Sans", "Noto Sans CJK JP", sans-serif' textLength="17.9" lengthAdjust="spacingAndGlyphs">16.9</text>
<text x="587.12" y="693.10" font-size="10.2" text-anchor="end" font-weight="400" fill="#444" font-family='"Liberation Sans", "Noto Sans CJK JP", sans-serif' textLength="17.9" lengthAdjust="spacingAndGlyphs">14.8</text>
<text x="615.90" y="677.00" font-size="10.2" text-anchor="end" font-weight="400" fill="#444" font-family='"Liberation Sans", "Noto Sans CJK JP", sans-serif' textLength="17.9" lengthAdjust="spacingAndGlyphs">18.6</text>
<text x="615.90" y="693.10" font-size="10.2" text-anchor="end" font-weight="400" fill="#444" font-family='"Liberation Sans", "Noto Sans CJK JP", sans-serif' textLength="12.8" lengthAdjust="spacingAndGlyphs">9.1</text>
<text x="458.59 458.59 458.59 458.59 458.59 458.59" y="597.60 609.60 621.60 633.60 645.60 657.60" text-anchor="middle" font-size="10" font-weight="400" font-family='"Liberation Sans", "Noto Sans CJK JP", sans-serif'>30万人以上</text>
<text x="487.38 487.38 487.38 487.38 487.38 487.38" y="597.60 609.60 621.60 633.60 645.60 657.60" text-anchor="middle" font-size="10" font-weight="400" font-family='"Liberation Sans", "Noto Sans CJK JP", sans-serif'>10万人以上</text>
<text x="516.16 516.16 516.16 516.16 516.16" y="597.60 609.60 621.60 633.60 645.60" text-anchor="middle" font-size="10" font-weight="400" font-family='"Liberation Sans", "Noto Sans CJK JP", sans-serif'>5万人以上</text>
<text x="544.94 544.94 544.94 544.94 544.94" y="597.60 609.60 621.60 633.60 645.60" text-anchor="middle" font-size="10" font-weight="400" font-family='"Liberation Sans", "Noto Sans CJK JP", sans-serif'>3万人以上</text>
<text x="573.72 573.72 573.72 573.72 573.72" y="597.60 609.60 621.60 633.60 645.60" text-anchor="middle" font-size="10" font-weight="400" font-family='"Liberation Sans", "Noto Sans CJK JP", sans-serif'>1万人以上</text>
<text x="602.51 602.51 602.51 602.51 602.51" y="597.60 609.60 621.60 633.60 645.60" text-anchor="middle" font-size="10" font-weight="400" font-family='"Liberation Sans", "Noto Sans CJK JP", sans-serif'>1万人未満</text>
</svg>
<div class="vl" style="left:135.80px;top:187.3px;width:22.17px;line-height:22.17px">地域の商店<span class="po">（</span>街<span class="pc">）</span>に活気がある</div>
<div class="vl" style="left:157.98px;top:187.3px;width:22.17px;line-height:22.17px">生活環境で困ることが少ない</div>
<div class="vl" style="left:180.15px;top:187.3px;width:22.17px;line-height:22.17px">買い物がしやすい</div>
<div class="vl" style="left:202.32px;top:187.3px;width:22.17px;line-height:22.17px">犯罪や事故が少ない</div>
<div class="vl" style="left:224.50px;top:187.3px;width:22.17px;line-height:22.17px">交通利便性が高い</div>
<div class="vl" style="left:246.68px;top:187.3px;width:22.17px;line-height:22.17px">地域に楽しめる場所がある</div>
<div class="vl" style="left:268.85px;top:187.3px;width:22.17px;line-height:22.17px">病院・医療体制が整っている</div>
<div class="vl" style="left:291.02px;top:187.3px;width:22.17px;line-height:22.17px">地域固有の歴史や伝統行事がある</div>
<div class="vl" style="left:313.20px;top:187.3px;width:22.17px;line-height:22.17px">自然が豊かな土地である</div>
<div class="vl" style="left:335.38px;top:187.3px;width:22.17px;line-height:22.17px">新しい店が増えている</div>
<div class="vl" style="left:357.55px;top:187.3px;width:22.17px;line-height:22.17px">地元で買い物をする人が多い</div>
<div class="vl" style="left:379.72px;top:187.3px;width:22.17px;line-height:22.17px">街がきれい</div>
<div class="vl" style="left:401.90px;top:187.3px;width:22.17px;line-height:22.17px">公共施設や公園が充実している</div>
<div class="vl" style="left:424.07px;top:187.3px;width:22.17px;line-height:22.17px">子育て環境や教育環境が整っている</div>
<div class="vl" style="left:446.25px;top:187.3px;width:22.17px;line-height:22.17px">移住者が増えている</div>
<div class="vl" style="left:468.42px;top:187.3px;width:22.17px;line-height:22.17px">地域内で若い人の姿を多く見かける</div>
<div class="vl" style="left:490.60px;top:187.3px;width:22.17px;line-height:22.17px">地域内に働く場が多い</div>
<div class="vl" style="left:512.77px;top:187.3px;width:22.17px;line-height:22.17px">子どもが多い</div>
<div class="vl" style="left:534.95px;top:187.3px;width:22.17px;line-height:22.17px">自慢したい地域のモノ・コトがある</div>
<div class="vl" style="left:557.12px;top:187.3px;width:22.17px;line-height:22.17px">地域の祭りやイベントが盛ん</div>
</div>
</body></html>
